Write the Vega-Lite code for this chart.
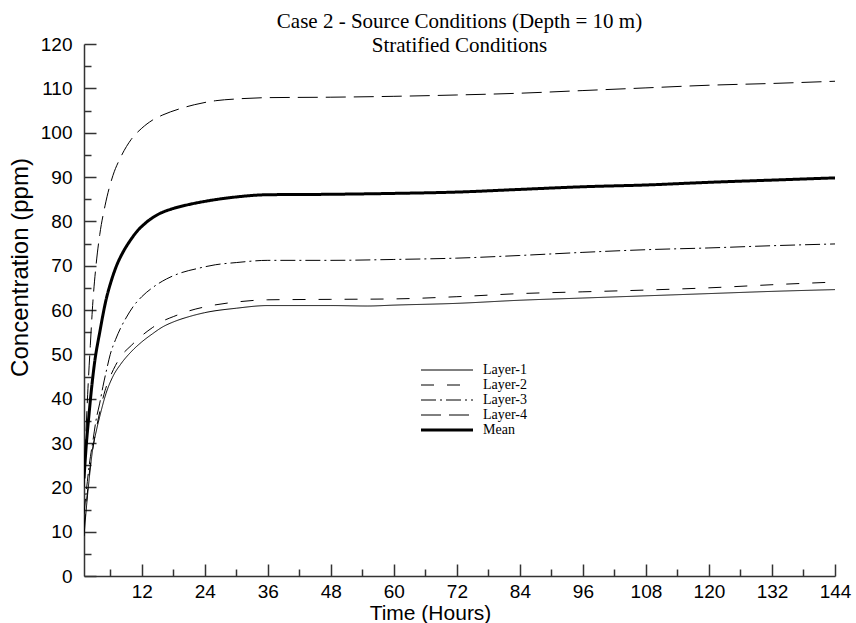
{
  "$schema": "https://vega.github.io/schema/vega-lite/v6.json",
  "width": 751,
  "height": 532,
  "autosize": {"type": "none"},
  "padding": {"left": 84, "top": 44, "right": 21, "bottom": 47},
  "background": "white",
  "config": {
    "view": {"stroke": null},
    "axis": {"grid": false, "domainColor": "#333333", "domainWidth": 1.5, "tickColor": "#333333", "tickWidth": 1.5, "labelFont": "Liberation Sans", "labelFontSize": 19, "labelColor": "black", "titleFont": "Liberation Sans", "titleFontWeight": "normal", "titleColor": "black", "labelFlush": false}
  },
  "title": {
    "text": ["Case 2 - Source Conditions (Depth = 10 m)", "Stratified Conditions"],
    "font": "Liberation Serif",
    "fontSize": 21,
    "fontWeight": "normal",
    "color": "black",
    "lineHeight": 24,
    "anchor": "middle",
    "offset": -21
  },
  "data": {"values": [
    {"series": "Layer-1", "t": 1, "c": 9}, {"series": "Layer-1", "t": 1.5, "c": 16}, {"series": "Layer-1", "t": 2, "c": 22}, {"series": "Layer-1", "t": 2.7, "c": 29}, {"series": "Layer-1", "t": 3.3, "c": 32.5}, {"series": "Layer-1", "t": 4, "c": 36}, {"series": "Layer-1", "t": 5.2, "c": 41.2}, {"series": "Layer-1", "t": 6.5, "c": 45}, {"series": "Layer-1", "t": 8, "c": 47.8}, {"series": "Layer-1", "t": 10, "c": 50.6}, {"series": "Layer-1", "t": 12, "c": 52.8}, {"series": "Layer-1", "t": 14, "c": 54.6}, {"series": "Layer-1", "t": 16, "c": 56.2}, {"series": "Layer-1", "t": 18, "c": 57.3}, {"series": "Layer-1", "t": 21, "c": 58.5}, {"series": "Layer-1", "t": 24, "c": 59.4}, {"series": "Layer-1", "t": 30, "c": 60.4}, {"series": "Layer-1", "t": 36, "c": 61}, {"series": "Layer-1", "t": 48, "c": 61}, {"series": "Layer-1", "t": 55, "c": 60.9}, {"series": "Layer-1", "t": 60, "c": 61.1}, {"series": "Layer-1", "t": 72, "c": 61.5}, {"series": "Layer-1", "t": 84, "c": 62.2}, {"series": "Layer-1", "t": 96, "c": 62.7}, {"series": "Layer-1", "t": 108, "c": 63.2}, {"series": "Layer-1", "t": 120, "c": 63.7}, {"series": "Layer-1", "t": 132, "c": 64.2}, {"series": "Layer-1", "t": 144, "c": 64.6},
    {"series": "Layer-2", "t": 1, "c": 11}, {"series": "Layer-2", "t": 1.5, "c": 17}, {"series": "Layer-2", "t": 2, "c": 23}, {"series": "Layer-2", "t": 3, "c": 31}, {"series": "Layer-2", "t": 4, "c": 37}, {"series": "Layer-2", "t": 5, "c": 41.8}, {"series": "Layer-2", "t": 6, "c": 45}, {"series": "Layer-2", "t": 7, "c": 47.5}, {"series": "Layer-2", "t": 8, "c": 49.5}, {"series": "Layer-2", "t": 10, "c": 52}, {"series": "Layer-2", "t": 12, "c": 54.2}, {"series": "Layer-2", "t": 14, "c": 56}, {"series": "Layer-2", "t": 16, "c": 57.5}, {"series": "Layer-2", "t": 18, "c": 58.5}, {"series": "Layer-2", "t": 21, "c": 59.8}, {"series": "Layer-2", "t": 24, "c": 60.7}, {"series": "Layer-2", "t": 30, "c": 61.8}, {"series": "Layer-2", "t": 36, "c": 62.3}, {"series": "Layer-2", "t": 48, "c": 62.4}, {"series": "Layer-2", "t": 60, "c": 62.5}, {"series": "Layer-2", "t": 72, "c": 63}, {"series": "Layer-2", "t": 84, "c": 63.7}, {"series": "Layer-2", "t": 96, "c": 64.1}, {"series": "Layer-2", "t": 108, "c": 64.5}, {"series": "Layer-2", "t": 120, "c": 65}, {"series": "Layer-2", "t": 132, "c": 65.7}, {"series": "Layer-2", "t": 144, "c": 66.3},
    {"series": "Layer-3", "t": 1, "c": 14}, {"series": "Layer-3", "t": 1.4, "c": 18.7}, {"series": "Layer-3", "t": 2, "c": 25}, {"series": "Layer-3", "t": 2.7, "c": 30.5}, {"series": "Layer-3", "t": 3.3, "c": 35.2}, {"series": "Layer-3", "t": 4, "c": 39}, {"series": "Layer-3", "t": 4.6, "c": 42.7}, {"series": "Layer-3", "t": 5.3, "c": 46.5}, {"series": "Layer-3", "t": 6, "c": 50}, {"series": "Layer-3", "t": 7, "c": 53.3}, {"series": "Layer-3", "t": 8, "c": 56}, {"series": "Layer-3", "t": 9, "c": 58.2}, {"series": "Layer-3", "t": 10.5, "c": 61}, {"series": "Layer-3", "t": 12, "c": 63}, {"series": "Layer-3", "t": 14, "c": 65}, {"series": "Layer-3", "t": 16.7, "c": 67}, {"series": "Layer-3", "t": 19.5, "c": 68.4}, {"series": "Layer-3", "t": 22.4, "c": 69.3}, {"series": "Layer-3", "t": 26, "c": 70.2}, {"series": "Layer-3", "t": 30, "c": 70.7}, {"series": "Layer-3", "t": 36, "c": 71.2}, {"series": "Layer-3", "t": 48, "c": 71.2}, {"series": "Layer-3", "t": 60, "c": 71.4}, {"series": "Layer-3", "t": 72, "c": 71.7}, {"series": "Layer-3", "t": 84, "c": 72.3}, {"series": "Layer-3", "t": 96, "c": 73}, {"series": "Layer-3", "t": 108, "c": 73.6}, {"series": "Layer-3", "t": 120, "c": 74}, {"series": "Layer-3", "t": 132, "c": 74.5}, {"series": "Layer-3", "t": 144, "c": 74.9},
    {"series": "Layer-4", "t": 1, "c": 20}, {"series": "Layer-4", "t": 1.3, "c": 30}, {"series": "Layer-4", "t": 1.7, "c": 41}, {"series": "Layer-4", "t": 2.2, "c": 52}, {"series": "Layer-4", "t": 2.7, "c": 62}, {"series": "Layer-4", "t": 3.2, "c": 69}, {"series": "Layer-4", "t": 4, "c": 77}, {"series": "Layer-4", "t": 5, "c": 83.5}, {"series": "Layer-4", "t": 6.5, "c": 90.3}, {"series": "Layer-4", "t": 8, "c": 94.5}, {"series": "Layer-4", "t": 10, "c": 98.5}, {"series": "Layer-4", "t": 12, "c": 101}, {"series": "Layer-4", "t": 14, "c": 102.8}, {"series": "Layer-4", "t": 16, "c": 104}, {"series": "Layer-4", "t": 19, "c": 105.3}, {"series": "Layer-4", "t": 22, "c": 106.3}, {"series": "Layer-4", "t": 26, "c": 107.2}, {"series": "Layer-4", "t": 30, "c": 107.6}, {"series": "Layer-4", "t": 36, "c": 107.9}, {"series": "Layer-4", "t": 48, "c": 108}, {"series": "Layer-4", "t": 60, "c": 108.2}, {"series": "Layer-4", "t": 72, "c": 108.5}, {"series": "Layer-4", "t": 84, "c": 108.9}, {"series": "Layer-4", "t": 96, "c": 109.5}, {"series": "Layer-4", "t": 108, "c": 110.1}, {"series": "Layer-4", "t": 120, "c": 110.7}, {"series": "Layer-4", "t": 132, "c": 111.1}, {"series": "Layer-4", "t": 144, "c": 111.6},
    {"series": "Mean", "t": 1, "c": 22}, {"series": "Mean", "t": 1.4, "c": 29}, {"series": "Mean", "t": 2, "c": 37}, {"series": "Mean", "t": 2.5, "c": 43}, {"series": "Mean", "t": 3, "c": 48}, {"series": "Mean", "t": 4, "c": 55}, {"series": "Mean", "t": 5.2, "c": 62.3}, {"series": "Mean", "t": 6.2, "c": 66.6}, {"series": "Mean", "t": 7.1, "c": 69.7}, {"series": "Mean", "t": 8.5, "c": 73.2}, {"series": "Mean", "t": 9.7, "c": 75.5}, {"series": "Mean", "t": 11, "c": 77.6}, {"series": "Mean", "t": 12.8, "c": 79.7}, {"series": "Mean", "t": 15, "c": 81.5}, {"series": "Mean", "t": 18, "c": 82.9}, {"series": "Mean", "t": 21, "c": 83.8}, {"series": "Mean", "t": 24, "c": 84.5}, {"series": "Mean", "t": 30, "c": 85.5}, {"series": "Mean", "t": 36, "c": 86}, {"series": "Mean", "t": 48, "c": 86.1}, {"series": "Mean", "t": 60, "c": 86.3}, {"series": "Mean", "t": 72, "c": 86.6}, {"series": "Mean", "t": 84, "c": 87.2}, {"series": "Mean", "t": 96, "c": 87.8}, {"series": "Mean", "t": 108, "c": 88.2}, {"series": "Mean", "t": 120, "c": 88.8}, {"series": "Mean", "t": 132, "c": 89.3}, {"series": "Mean", "t": 144, "c": 89.8}
  ]},
  "resolve": {"axis": {"x": "independent", "y": "independent"}},
  "layer": [
    {
      "transform": [{"filter": "datum.series !== 'Mean'"}],
      "mark": {"type": "line", "interpolate": "monotone", "strokeWidth": 1, "color": "black", "clip": true},
      "encoding": {
        "x": {"field": "t", "type": "quantitative", "scale": {"domain": [1, 144], "nice": false, "zero": false},
          "axis": {"orient": "bottom", "values": [12, 24, 36, 48, 60, 72, 84, 96, 108, 120, 132, 144], "tickSize": -12, "labelPadding": 18, "title": "Time (Hours)", "titleFontSize": 21, "titlePadding": 1, "titleX": 346}},
        "y": {"field": "c", "type": "quantitative", "scale": {"domain": [0, 120], "nice": false},
          "axis": {"orient": "left", "values": [0, 10, 20, 30, 40, 50, 60, 70, 80, 90, 100, 110, 120], "tickSize": -12, "labelPadding": 24, "title": "Concentration (ppm)", "titleFontSize": 24, "titlePadding": 8, "titleY": 223}},
        "strokeDash": {"field": "series", "type": "nominal",
          "scale": {"domain": ["Layer-1", "Layer-2", "Layer-3", "Layer-4", "Mean"], "range": [[1, 0], [13, 13], [15, 4, 2, 4], [20, 8], [1, 0]]},
          "legend": {"title": null, "orient": "none", "legendX": 356, "legendY": 319, "symbolType": "stroke", "symbolSize": 2704, "symbolStrokeColor": "black", "symbolStrokeWidth": 1, "rowPadding": 1, "labelFont": "Liberation Serif", "labelFontSize": 14, "labelColor": "black", "labelOffset": 29,
            "encode": {"symbols": {"update": {"strokeWidth": {"signal": "datum.value === 'Mean' ? 3 : 1"}}}}}
        }
      }
    },
    {
      "transform": [{"filter": "datum.series === 'Mean'"}],
      "mark": {"type": "line", "interpolate": "monotone", "strokeWidth": 3, "color": "black", "clip": true},
      "encoding": {
        "x": {"field": "t", "type": "quantitative",
          "axis": {"orient": "bottom", "values": [6, 18, 30, 42, 54, 66, 78, 90, 102, 114, 126, 138], "tickSize": -7, "labels": false, "domain": false, "title": null}},
        "y": {"field": "c", "type": "quantitative",
          "axis": {"orient": "left", "values": [5, 15, 25, 35, 45, 55, 65, 75, 85, 95, 105, 115], "tickSize": -7, "labels": false, "domain": false, "title": null}},
        "strokeDash": {"field": "series", "type": "nominal"}
      }
    }
  ]
}
